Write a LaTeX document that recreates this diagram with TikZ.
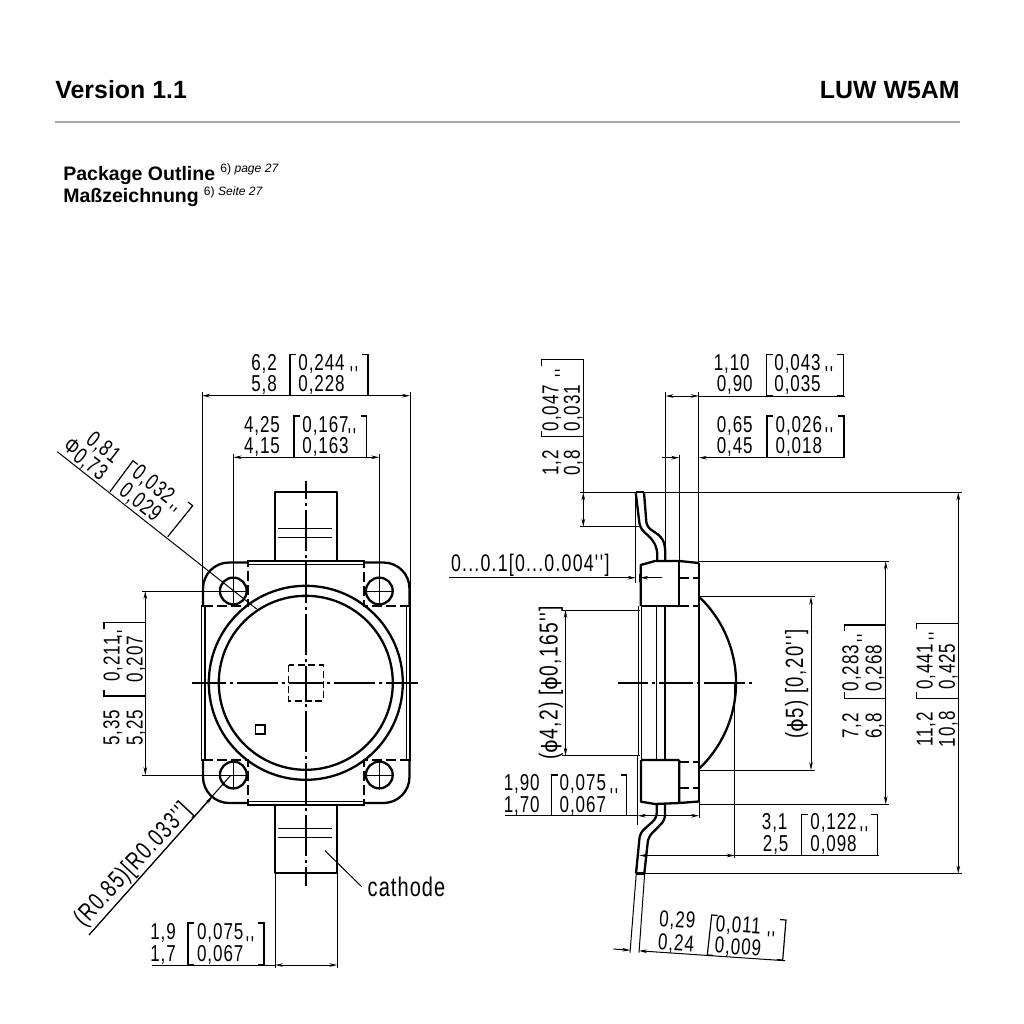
\documentclass[tikz,border=0pt]{standalone}
\usepackage{fontspec}
\usetikzlibrary{arrows.meta}
\setmainfont{Liberation Sans}
\newfontfamily\isofont[FakeStretch=0.74,LetterSpace=4]{Liberation Sans}
\newfontfamily\phifont{DejaVu Sans}
\definecolor{rulegray}{gray}{0.65}
\newcounter{lbl}
\tikzset{
  outline/.style={line width=1.15pt,line join=round},
  thin line/.style={line width=0.5pt},
  dimline/.style={line width=0.5pt},
  bracketline/.style={line width=0.6pt},
  hidden/.style={line width=0.85pt,dash pattern=on 5pt off 2pt},
  axisline/.style={line width=0.55pt,dash pattern=on 20.5pt off 2pt on 1.5pt off 2pt,dash phase=12pt},
  isotext/.style={inner sep=0pt,font=\isofont\fontsize{11.5}{13}\selectfont},
  head/.style={-{Stealth[length=4pt,width=1.8pt]}},
  twoheads/.style={{Stealth[length=4pt,width=1.8pt]}-{Stealth[length=4pt,width=1.8pt]}}
}
\newcommand\lab[4][0]{\stepcounter{lbl}\node[isotext,rotate=#1,name=c\arabic{lbl}] at (#2,#3) {#4};}
\newcommand\labl[4][0]{\stepcounter{lbl}\node[isotext,anchor=west,rotate=#1,name=w\arabic{lbl}] at (#2,#3) {#4};}
\newcommand\brk[4]{\draw[bracketline] (#1+6,#3)--(#1,#3)--(#1,#4)--(#1+6,#4) (#2-6,#3)--(#2,#3)--(#2,#4)--(#2-6,#4);}
\newcommand\vbrk[4]{\draw[bracketline] (#1,#3+6)--(#1,#3)--(#2,#3) (#1,#4-6)--(#1,#4)--(#2,#4);}
\newcommand\spc[2]{\fontsize{#1}{15}\selectfont\addfontfeature{LetterSpace=#2}}
\newcommand\dia{{\phifont\fontsize{10.5}{12}\selectfont ϕ}}
\newcommand\inch{'\kern0.8pt'}
\begin{document}
\begin{tikzpicture}[x=0.5pt,y=-0.5pt]
\useasboundingbox (0,0) rectangle (1024,1024);
\fill[white] (0,0) rectangle (1024,1024);
% ---------- header
\node[anchor=base west,inner sep=0pt,font=\bfseries\fontsize{12.45}{14}\selectfont] (ver) at (55,98) {Version 1.1};
\node[anchor=base east,inner sep=0pt,font=\bfseries\fontsize{12.45}{14}\selectfont] (typ) at (960,98) {LUW W5AM};
\draw[rulegray,line width=0.65pt] (55,122) -- (960,122);
\node[anchor=base west,inner sep=0pt,font=\bfseries\fontsize{9.75}{11}\selectfont] (po) at (63,180) {Package Outline};
\node[anchor=base west,inner sep=0pt,font=\bfseries\fontsize{9.75}{11}\selectfont] (mz) at (63,202) {Maßzeichnung};
\node[anchor=base west,inner sep=0pt,font=\fontsize{6.05}{7}\selectfont] (pos) at (220,172) {6) \itshape page 27};
\node[anchor=base west,inner sep=0pt,font=\fontsize{6.05}{7}\selectfont] (mzs) at (203.5,195) {6) \itshape Seite 27};
% ---------- left view: extension lines
\draw[thin line] (202,392)--(202,606) (410,392)--(410,606);
\draw[thin line] (233.5,454)--(233.5,605) (379.3,454)--(379.3,605);
\draw[thin line] (142,591)--(247,591) (142,775)--(247,775);
\draw[thin line] (275,873)--(275,968) (337.3,873)--(337.3,968);
% outline
\draw[outline,rounded corners=13pt] (203,606)--(203,562.5)--(248,562.5);
\draw[outline,rounded corners=13pt] (364,562.5)--(409.5,562.5)--(409.5,606);
\draw[outline,rounded corners=13pt] (203,760)--(203,803)--(248,803);
\draw[outline,rounded corners=13pt] (364,803)--(409.5,803)--(409.5,760);
\draw[line width=0.7pt] (248,560.8) rectangle (364,564.2);
\draw[line width=0.7pt] (248,801.4) rectangle (364,804.8);
\draw[line width=0.7pt] (201.5,606) rectangle (204.8,760);
\draw[line width=0.7pt] (406.6,606) rectangle (410,760);
\draw[hidden] (203,606)--(248,606)--(248,563) (409.5,606)--(364,606)--(364,563);
\draw[hidden] (203,760)--(248,760)--(248,803) (409.5,760)--(364,760)--(364,803);
% holes
\foreach \hx/\hy in {233.3/591,379.3/591,233.3/775,379.3/775}
  \draw[outline] (\hx,\hy) circle[radius=13.4];
\draw[thin line] (366,591)--(393,591);
\draw[thin line] (366,775)--(393,775) (379.3,761)--(379.3,789) (233.3,761)--(233.3,789);
% lens rings
\draw[outline] (305.8,682.8) circle[radius=97];
\draw[outline] (305.8,682.8) circle[radius=87];
% chip
\draw[line width=0.8pt,dash pattern=on 3.5pt off 1.7pt] (288.5,665.2) rectangle (323.5,700.7);
\draw[line width=0.55pt] (255.8,725) rectangle (265,734);
% tabs
\draw[outline] (274.8,561)--(274.8,491.8)--(337.2,491.8)--(337.2,561);
\draw[outline] (275,804)--(275,873.2)--(337.2,873.2)--(337.2,804);
\draw[thin line] (278,528)--(331.7,528) (278,537.7)--(331.7,537.7);
\draw[thin line] (278,828.3)--(331.7,828.3) (278,837.7)--(331.7,837.7);
% axes
\draw[axisline] (306,683)--(306,481);
\draw[axisline] (306,683)--(306,886);
\draw[axisline] (306,683)--(191.5,683);
\draw[axisline] (306,683)--(418,683);
% dims left view
\draw[dimline,twoheads] (202,395.7)--(410,395.7);
\lab{264}{364}{6,2}\lab{264}{385}{5,8}
\labl{298}{364}{0,244}\labl{298}{385}{0,228}\lab{354}{375}{\inch}
\brk{290}{368}{354.3}{395.7}
\draw[dimline,twoheads] (233.5,457.3)--(379.3,457.3);
\lab{262}{426}{4,25}\lab{262}{447}{4,15}
\labl{302}{426}{0,167}\labl{302}{447}{0,163}\lab{352}{437}{\inch}
\brk{294}{366.7}{416}{457.3}
% diagonal dia
\draw[dimline] (57.3,451.7)--(256.7,609);
\lab[-38.3]{103}{448}{0,81}\lab[-38.3]{90}{465}{0,73}\lab[-38.3]{72}{446}{Φ}
\lab[-38.3]{153}{485}{0,032}\lab[-38.3]{140}{503}{0,029}\lab[-38.3]{170}{513}{\inch}
\draw[bracketline] (137.7,464.4)--(133,460.7)--(110,491.7) (188,502)--(192.7,505.7)--(167.7,536.7);
% 5,35
\draw[dimline,twoheads] (145.3,591)--(145.3,775);
\lab[90]{112.7}{728}{5,35}\lab[90]{136}{728}{5,25}
\lab[90]{113}{659}{0,211}\lab[90]{136}{659}{0,207}\lab[90]{125}{634}{\inch}
\vbrk{104}{145.3}{622.7}{696}
% radius
\coordinate (rs) at (89,935);
\coordinate (re) at (231,775);
\draw[dimline] (rs)--(re);
\draw[dimline,head] (rs)--(212.5,796.5);
\lab[47]{133.5}{865}{\spc{12.5}{5}(R0.85)[R0.033\inch]}
% 1,9
\draw[dimline] (151.7,965)--(275,965);
\draw[dimline,twoheads] (275,965)--(337.3,965);
\lab{163}{933}{1,9}\lab{163}{955}{1,7}
\labl{196.7}{933}{0,075}\labl{196.7}{955}{0,067}\lab{250}{945}{\inch}
\brk{188}{264}{923}{965}
% cathode
\draw[dimline] (325,850.7)--(361.7,886.7);
\labl{367.3}{887}{\spc{13.5}{4}cathode}
% ---------- right view: extension lines
\draw[thin line] (665.6,392)--(665.6,561) (679.3,455)--(679.3,561) (698.8,392)--(698.8,563);
\draw[thin line] (580,492.3)--(961.7,492.3) (580,526.7)--(640,526.7);
\draw[thin line] (699,561.3)--(889,561.3) (699,804.3)--(889,804.3);
\draw[thin line] (699,596.7)--(815,596.7) (699,770)--(815,770);
\draw[thin line] (561.7,610)--(640,610) (561.7,755.6)--(640,755.6);
\draw[thin line] (644,873.7)--(962,873.7);
\draw[thin line] (635.7,492)--(635.7,583) (637.7,755)--(637.7,825);
\draw[thin line] (734.7,683)--(734.7,858) (699,802)--(699,818);
\draw[thin line] (636.3,873)--(630,952.7) (644.7,873)--(639,952.7);
% part
\draw[outline,rounded corners=2.5pt] (635.7,492.3)--(640,528)--(653.3,540.5)--(657.3,550)--(657.3,561);
\draw[outline,rounded corners=2.5pt] (644,492.3)--(646.7,526.7)--(661.7,537)--(665.2,546)--(665.2,561);
\draw[outline] (635.7,492.3)--(644,492.3);
\draw[outline] (640.7,606)--(640.7,565)--(655,561)--(679.3,561)--(699,563);
\draw[outline] (640.7,606)--(679.3,606) (679.3,561)--(679.3,606);
\draw[line width=0.85pt] (698.8,563)--(698.8,802);
\draw[hidden] (679.3,578)--(698.8,578) (679.3,606)--(698.8,606);
\draw[hidden] (679.3,761.7)--(698.8,761.7) (679.3,788.3)--(698.8,788.3);
\draw[line width=0.7pt] (638.2,606)--(638.2,756) (641.7,606)--(641.7,760);
\draw[line width=0.7pt] (656.7,606)--(656.7,760) (665,606)--(665,760);
\draw[outline] (641,760)--(679.3,760) (641,760)--(641,801.7)--(655,804)--(679.3,803)--(698.8,801.5) (679.3,760)--(679.3,803);
\draw[outline,rounded corners=2.5pt] (656.7,804)--(656.7,818)--(640,833)--(636,873.5);
\draw[outline,rounded corners=2.5pt] (665,804)--(665,820)--(648.3,837)--(644.3,873.5);
\draw[outline] (636,873.5)--(644.3,873.5);
\draw[outline] (699,596.7) arc[start angle=-46.6,end angle=46.6,radius=118.4];
\draw[axisline] (676,683)--(617.7,683);
\draw[axisline] (676,683)--(754,683);
% dims right view
\draw[dimline] (698.8,396)--(845,396);
\draw[dimline,twoheads] (665.6,396)--(698.8,396);
\lab{731.7}{364}{1,10}\lab{734.7}{385}{0,90}
\labl{774}{364}{0,043}\labl{774}{385}{0,035}\lab{829}{375}{\inch}
\brk{766.7}{843.3}{354.3}{396}
\draw[dimline,head] (662.3,457.7)--(679.3,457.7);
\draw[dimline,head] (845,457.7)--(698.8,457.7);
\lab{734.7}{426}{0,65}\lab{734.7}{447}{0,45}
\labl{775.3}{426}{0,026}\labl{775.3}{447}{0,018}\lab{829}{436}{\inch}
\brk{767}{844}{416}{457.7}
\draw[dimline] (583.3,359)--(583.3,492.3);
\draw[dimline,twoheads] (583.3,492.3)--(583.3,526.7);
\lab[90]{551.7}{463}{1,2}\lab[90]{573.3}{463}{0,8}
\lab[90]{551.7}{408}{0,047}\lab[90]{573.3}{408}{0,031}\lab[90]{563}{373}{\inch}
\vbrk{541.7}{583.3}{359.5}{436.7}
\draw[dimline,head] (449.3,577.7)--(635.7,577.7);
\draw[dimline,head] (661.7,577.7)--(640.2,577.7);
\draw[thin line] (639,574)--(639,582);
\labl{450.7}{565.7}{\spc{12}{5}0...0.1[0...0.004\inch]}
\draw[dimline,twoheads] (565.5,610)--(565.5,755.6);
\lab[90]{551}{683}{\spc{13}{5}(\dia 4,2) [\dia 0,165\inch]}
\draw[dimline,twoheads] (811,596.7)--(811,770);
\lab[90]{796.7}{684}{\spc{12.5}{6}(\dia 5) [0,20\inch]}
\draw[dimline,twoheads] (885.7,561.3)--(885.7,804.3);
\lab[90]{851.7}{726}{7,2}\lab[90]{875}{726}{6,8}
\lab[90]{851.7}{668}{0,283}\lab[90]{875}{668}{0,268}\lab[90]{865}{638}{\inch}
\vbrk{844.3}{885.7}{625}{698.3}
\draw[dimline,twoheads] (958.3,492.3)--(958.3,873.7);
\lab[90]{926}{729.3}{11,2}\lab[90]{948.3}{729.3}{10,8}
\lab[90]{926}{666.7}{0,441}\lab[90]{948.3}{666.7}{0,425}\lab[90]{936.7}{636}{\inch}
\vbrk{916.7}{958.3}{623.3}{698.3}
\draw[dimline] (505,815.7)--(637.7,815.7);
\draw[dimline,twoheads] (637.7,815.7)--(699,815.7);
\lab{521.7}{784}{1,90}\lab{521.7}{805.7}{1,70}
\labl{559.3}{784}{0,075}\labl{559.3}{805.7}{0,067}\lab{614}{796.7}{\inch}
\brk{551.7}{626.7}{775}{815.7}
\draw[dimline] (734.7,855.5)--(879.3,855.5);
\draw[dimline,twoheads] (639.3,855.5)--(734.7,855.5);
\lab{774.7}{823}{3,1}\lab{775.7}{845}{2,5}
\labl{810}{823}{0,122}\labl{810}{845}{0,098}\lab{864}{835}{\inch}
\brk{801.7}{877.3}{814.3}{855.5}
% tilted 0,29
\draw[dimline,head] (613.3,949)--(630.3,950.2);
\draw[dimline,head] (785,960.7)--(639,950.8);
\lab[-3.9]{677.3}{920.7}{0,29}\lab[-3.9]{676}{944}{0,24}
\lab[-3.9]{738.3}{926}{0,011}\lab[-3.9]{738}{948}{0,009}\lab[-3.9]{770.7}{940}{\inch}
\draw[bracketline] (717.7,915.4)--(711.7,915)--(707.3,955)--(713.3,955.4) (780,919.6)--(786,920)--(782.7,960)--(776.7,959.6);
\end{tikzpicture}
\end{document}
